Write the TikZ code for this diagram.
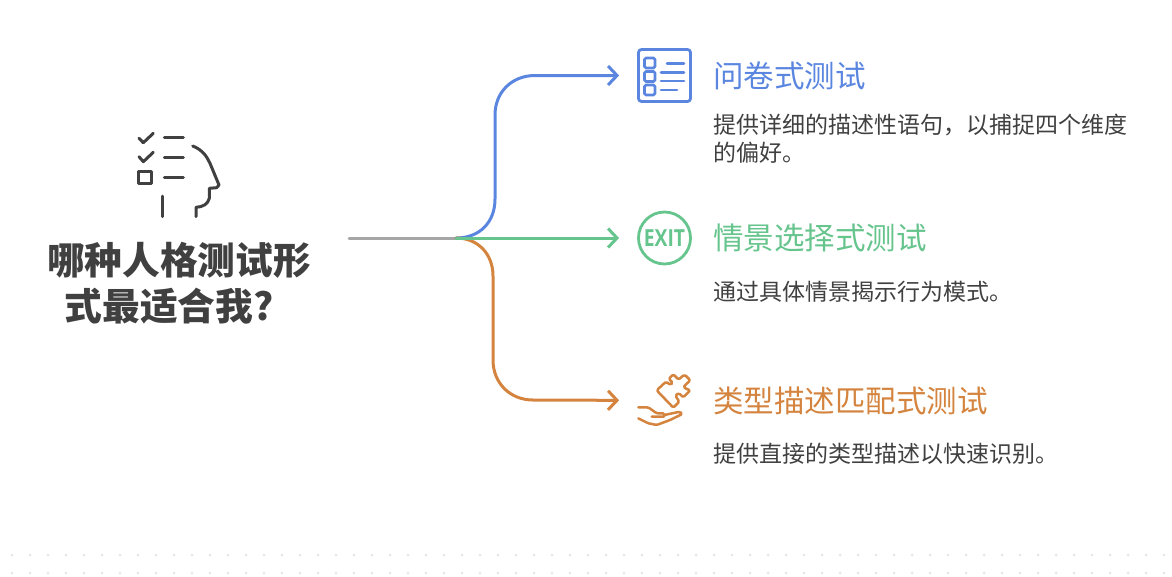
\documentclass[tikz,border=0pt]{standalone}
\usepackage{fontspec}
\setmainfont{Noto Sans CJK SC}
\newfontfamily\exitfont{Open Sans}
\usetikzlibrary{positioning, arrows.meta}
\definecolor{inkgray}{HTML}{404040}
\definecolor{linegray}{HTML}{A6A6A6}
\definecolor{dotgray}{HTML}{E6E6E6}
\definecolor{optblue}{HTML}{5B86E0}
\definecolor{optgreen}{HTML}{66C48D}
\definecolor{optorange}{HTML}{D4843E}

\begin{document}
\begin{tikzpicture}
[x=1pt,y=-1pt,node distance=162.5pt,on grid,line cap=round,line join=round,
 icon/.style={minimum size=52pt,inner sep=0pt,line width=2.8pt},
 heading/.style={anchor=west,inner sep=0pt,font=\fontsize{30.5}{36}\selectfont},
 note/.style={anchor=north west,inner sep=0pt,align=left,text=inkgray,font=\fontsize{23}{28}\selectfont},
 link/.style={line width=3pt,shorten >=18pt,-{Straight Barb[length=9pt,width=19pt,line width=3pt]}},
 glyph/.style={line width=3pt,draw=inkgray}]

\useasboundingbox (0,0) rectangle (1172,576);

\foreach \i in {0,...,64} {
	\fill[dotgray] (12+18*\i,555) circle (1.5pt);
	\fill[dotgray] (12+18*\i,573) circle (1.5pt);
}

\node[align=center,inner sep=0pt,text=inkgray,font=\fontsize{37.7}{46}\selectfont\bfseries] (root) at (179,283.5)
	{哪种人格测试形\\式最适合我?\hspace*{20pt}};

\coordinate (start) at (349,238);
\coordinate (hub) at (456,238);

\node[icon,draw=optblue,rounded corners=3pt] (icon1) at (664.5,75.5) {};
\node[icon,draw=optgreen,circle,below of=icon1,text=optgreen,font=\fontsize{21}{21}\exitfont\bfseries] (icon2) {\scalebox{0.92}[1.12]{EXIT}};
\node[icon,below of=icon2] (icon3) {};

\node[heading,text=optblue,right=48.5pt of icon1,anchor=west] (head1) {问卷式测试};
\node[heading,text=optgreen,right=48.5pt of icon2,anchor=west] (head2) {情景选择式测试};
\node[heading,text=optorange,right=48.5pt of icon3,anchor=west] (head3) {类型描述匹配式测试};

\node[note,below=38pt of head1.west,anchor=north west] (note1) {提供详细的描述性语句，以捕捉四个维度\\的偏好。};
\node[note,below=43pt of head2.west,anchor=north west] (note2) {通过具体情景揭示行为模式。};
\node[note,below=42pt of head3.west,anchor=north west] (note3) {提供直接的类型描述以快速识别。};

\draw[line width=3pt,linegray] (start) -- (hub);
\draw[link,optblue] (hub) .. controls (480,238) and (495,222) .. (495,199) -- (495,115)
	.. controls (495,92) and (512,75.5) .. (535,75.5) -- (icon1);
\draw[link,optorange] (hub) .. controls (478,238) and (493,254) .. (493,276) -- (493,360)
	.. controls (493,383) and (510,400) .. (533,400) -- (icon3);
\draw[link,optgreen] (hub) -- (icon2);

% person with checklist
\draw[glyph] (139,138.3) -- (143.3,142.7) -- (153.3,133.3);
\draw[glyph] (164.3,137.7) -- (183.3,137.7);
\draw[glyph] (139,156.7) -- (143.3,161.7) -- (153.3,152.3);
\draw[glyph] (164.3,157.7) -- (183.3,157.7);
\draw[glyph] (138.3,171) rectangle (151.7,183.3);
\draw[glyph] (164.3,177.3) -- (183.3,177.3);
\draw[glyph] (162.3,196) -- (162.3,216.7);
\draw[glyph] (192.7,146) .. controls (203,150) and (207,157) .. (210,163.3) -- (219,185)
	-- (216.7,187.7) -- (209.3,188.3) -- (209.3,198.3)
	.. controls (208,204) and (203,207) .. (196,207.3) -- (196,216.7);

% list sheet
\foreach \y in {58,71.5,85}
	\draw[optblue,line width=2.8pt,rounded corners=1.5pt] (644.5,\y) rectangle (655,\y+10);
\foreach \y/\a/\b in {63.3/667/684,72.3/661/684,81/661/684,90/661/677}
	\draw[optblue,line width=2.8pt] (\a,\y) -- (\b,\y);

% puzzle piece over a hand
\begin{scope}[shift={(620,365)},scale=1/3,optorange,line width=2.5pt,rounded corners=1.5pt]
	\draw (110,76) -- (138,50) -- (152,60) -- (158,52) -- (146,42) -- (160,28) -- (176,44) -- (184,36) -- (194,29)
		-- (211,46) -- (198,58) -- (190,66) -- (200,72) -- (211,76) -- (190,97) -- (176,84) -- (166,92) -- (178,110)
		-- (160,128) -- cycle;
	\draw (55,127) -- (85,127) -- (110,145) -- (133,145) -- (135,155) -- (95,155);
	\draw (133,150) -- (180,140) -- (187,147) -- (150,165) -- (110,180) -- (85,175) -- (55,160);
\end{scope}
\end{tikzpicture}
\end{document}
